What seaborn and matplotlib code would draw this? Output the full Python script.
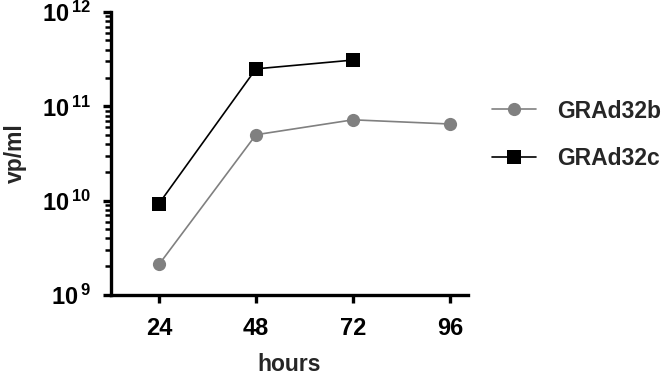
import matplotlib
matplotlib.use("Agg")
import matplotlib.pyplot as plt
import seaborn as sns
import pandas as pd
import numpy as np
from matplotlib.ticker import FixedLocator, FixedFormatter, LogLocator, NullFormatter

hours_b = [24, 48, 72, 96]
vp_b = [2.1e9, 5.0e10, 7.2e10, 6.5e10]
hours_c = [24, 48, 72]
vp_c = [9.3e9, 2.5e11, 3.1e11]
series_names = ["GRAd32b", "GRAd32c"]
x_ticks = [24, 48, 72, 96]
y_ticks = [1e9, 1e10, 1e11, 1e12]
y_tick_labels = [r"$\mathregular{10^{\,9}}$", r"$\mathregular{10^{\,10}}$",
                 r"$\mathregular{10^{\,11}}$", r"$\mathregular{10^{\,12}}$"]

df = pd.DataFrame({
    "hours": hours_b + hours_c,
    "vp": vp_b + vp_c,
    "series": [series_names[0]] * len(hours_b) + [series_names[1]] * len(hours_c),
})

sns.set_style("ticks")
plt.rcParams["font.family"] = ["Liberation Sans", "DejaVu Sans"]
plt.rcParams["font.weight"] = "bold"

fig = plt.figure(figsize=(6.64, 3.79), dpi=100)
ax = fig.add_axes([0.167, 0.222, 0.538, 0.746])

sns.lineplot(data=df, x="hours", y="vp", hue="series", style="series",
             palette={"GRAd32b": "#808080", "GRAd32c": "#000000"},
             markers={"GRAd32b": "o", "GRAd32c": "s"}, dashes=False,
             markersize=9.5, linewidth=1.2, markeredgewidth=0, ax=ax)

ax.set_yscale("log")
ax.set_ylim(1e9, 1e12)
ax.set_xlim(12.1, 100.5)
ax.xaxis.set_major_locator(FixedLocator(x_ticks))
ax.yaxis.set_major_locator(FixedLocator(y_ticks))
ax.yaxis.set_major_formatter(FixedFormatter(y_tick_labels))
ax.yaxis.set_minor_locator(LogLocator(base=10, subs=np.arange(2, 10)))
ax.yaxis.set_minor_formatter(NullFormatter())

for s in ["top", "right"]:
    ax.spines[s].set_visible(False)
for s in ["left", "bottom"]:
    ax.spines[s].set_linewidth(2.4)
    ax.spines[s].set_color("black")

ax.tick_params(axis="both", which="major", length=6, width=2.4, labelsize=17, colors="black")
ax.tick_params(axis="y", which="minor", length=4, width=1.8, color="black")
ax.tick_params(axis="x", pad=10)
ax.tick_params(axis="y", pad=8)
for lab in ax.get_xticklabels() + ax.get_yticklabels():
    lab.set_fontweight("bold")

ax.set_xlabel("hours", fontsize=16.5, fontweight="bold", labelpad=9)
ax.set_ylabel("vp/ml", fontsize=16.5, fontweight="bold", labelpad=11)

handles, labels = ax.get_legend_handles_labels()
ax.legend(handles, labels, loc="center left", bbox_to_anchor=(0.71, 0.645),
          bbox_transform=fig.transFigure, frameon=False,
          prop={"size": 16.5, "weight": "bold"}, handlelength=1.9,
          labelspacing=1.05, handletextpad=0.95)

fig.savefig("out.png", dpi=100)
